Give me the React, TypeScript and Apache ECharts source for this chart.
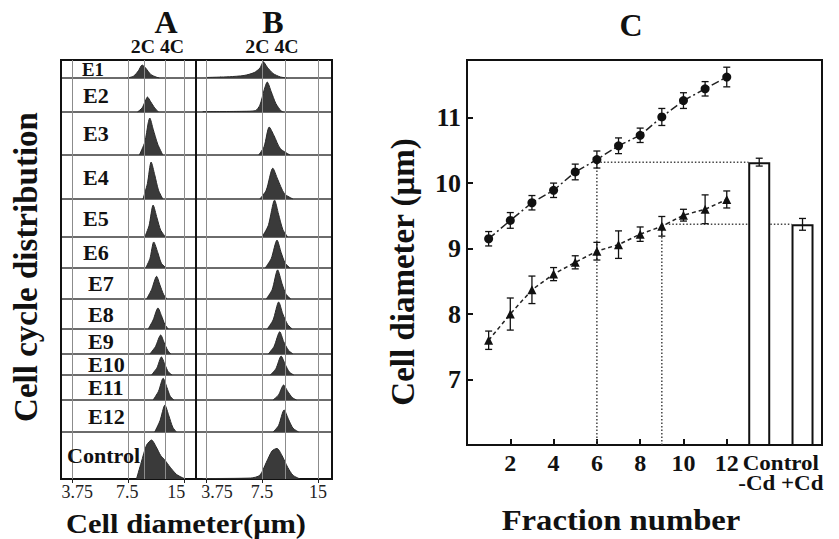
import { useEffect, useRef } from "react";
import * as echarts from "echarts";

// ================= DATA =================
const rowNames = ["E1", "E2", "E3", "E4", "E5", "E6", "E7", "E8", "E9", "E10", "E11", "E12", "Control"];

// Axis values of panels A and B (cell diameter, µm)
const diameterTicks = [3.75, 7.5, 15];
const ploidyA = [9.1, 11.8]; // 2C, 4C
const ploidyB = [7.53, 9.97]; // 2C, 4C

// Panel A histograms: [diameter µm, relative height]
const aE1 = [[7.4, 0], [8.0, 0.1], [8.5, 0.4], [8.9, 0.72], [9.3, 0.55], [9.9, 0.2], [10.6, 0.05], [11.0, 0]];
const aE2 = [[8.4, 0], [8.9, 0.12], [9.3, 0.35], [9.5, 0.44], [9.9, 0.3], [10.4, 0.12], [10.9, 0]];
const aE3 = [[8.6, 0], [9.2, 0.3], [9.6, 0.75], [9.78, 0.86], [10.2, 0.6], [10.8, 0.25], [11.5, 0]];
const aE4 = [[9.0, 0], [9.5, 0.35], [9.95, 0.84], [10.4, 0.55], [10.9, 0.2], [11.5, 0]];
const aE5 = [[9.2, 0], [9.7, 0.3], [10.2, 0.84], [10.7, 0.5], [11.2, 0.18], [11.9, 0]];
const aE6 = [[9.3, 0], [9.8, 0.3], [10.28, 0.84], [10.8, 0.5], [11.3, 0.15], [12.0, 0]];
const aE7 = [[9.4, 0], [10.0, 0.3], [10.65, 0.73], [11.1, 0.45], [11.6, 0.15], [12.1, 0]];
const aE8 = [[9.6, 0], [10.2, 0.3], [10.83, 0.7], [11.3, 0.45], [11.8, 0.15], [12.3, 0]];
const aE9 = [[9.8, 0], [10.5, 0.3], [11.2, 0.76], [11.7, 0.45], [12.2, 0.15], [12.7, 0]];
const aE10 = [[10.0, 0], [10.7, 0.35], [11.3, 0.86], [11.8, 0.5], [12.3, 0.15], [12.9, 0]];
const aE11 = [[10.2, 0], [10.9, 0.35], [11.55, 0.87], [12.1, 0.5], [12.6, 0.15], [13.2, 0]];
const aE12 = [[10.4, 0], [11.1, 0.35], [11.8, 0.84], [12.4, 0.5], [13.0, 0.15], [13.6, 0]];
const aControl = [[8.3, 0], [8.8, 0.35], [9.4, 0.72], [10.0, 0.83], [10.6, 0.68], [11.2, 0.5], [11.8, 0.4], [12.6, 0.25], [13.6, 0.1], [14.6, 0.03], [15.2, 0]];

// Panel B histograms: [diameter µm, relative height]
const bE1 = [[3.8, 0.03], [5.0, 0.07], [6.0, 0.14], [6.8, 0.3], [7.3, 0.55], [7.62, 0.9], [8.0, 0.6], [8.6, 0.25], [9.4, 0.06], [10.2, 0]];
const bE2 = [[3.6, 0.01], [6.0, 0.02], [6.9, 0.04], [7.3, 0.2], [7.7, 0.65], [8.0, 0.88], [8.4, 0.6], [8.9, 0.25], [9.5, 0.03], [9.8, 0]];
const bE3 = [[7.2, 0], [7.7, 0.2], [8.2, 0.65], [8.7, 0.45], [9.4, 0.15], [10.6, 0]];
const bE4 = [[7.3, 0], [7.9, 0.2], [8.57, 0.7], [9.1, 0.45], [9.9, 0.12], [11.0, 0]];
const bE5 = [[7.5, 0], [8.1, 0.3], [8.76, 0.97], [9.2, 0.6], [9.7, 0.2], [10.3, 0]];
const bE6 = [[7.8, 0], [8.4, 0.3], [9.03, 0.9], [9.5, 0.5], [10.0, 0.15], [10.6, 0]];
const bE7 = [[7.9, 0], [8.5, 0.3], [9.1, 0.94], [9.6, 0.5], [10.1, 0.15], [10.7, 0]];
const bE8 = [[8.0, 0], [8.6, 0.3], [9.22, 0.9], [9.7, 0.5], [10.3, 0.15], [10.9, 0]];
const bE9 = [[8.1, 0], [8.7, 0.3], [9.34, 0.89], [9.8, 0.5], [10.4, 0.15], [11.0, 0]];
const bE10 = [[8.3, 0], [8.9, 0.3], [9.5, 0.9], [10.0, 0.5], [10.5, 0.15], [11.1, 0]];
const bE11 = [[8.6, 0], [9.2, 0.2], [9.8, 0.6], [10.3, 0.35], [10.9, 0.1], [11.5, 0]];
const bE12 = [[8.6, 0], [9.2, 0.2], [9.86, 0.69], [10.4, 0.4], [11.0, 0.12], [11.8, 0]];
const bControl = [[3.6, 0.01], [6.5, 0.02], [7.3, 0.08], [7.9, 0.35], [8.5, 0.6], [9.03, 0.65], [9.6, 0.5], [10.3, 0.25], [11.0, 0.08], [12.0, 0]];

const histA = [aE1, aE2, aE3, aE4, aE5, aE6, aE7, aE8, aE9, aE10, aE11, aE12, aControl];
const histB = [bE1, bE2, bE3, bE4, bE5, bE6, bE7, bE8, bE9, bE10, bE11, bE12, bControl];

// Panel C
const fractions = [1, 2, 3, 4, 5, 6, 7, 8, 9, 10, 11, 12];
const diamNoCd = [9.15, 9.43, 9.7, 9.89, 10.17, 10.36, 10.57, 10.73, 11.01, 11.26, 11.44, 11.62];
const errNoCd = [0.11, 0.12, 0.11, 0.11, 0.12, 0.13, 0.12, 0.11, 0.13, 0.12, 0.11, 0.15];
const diamCd = [7.6, 8.0, 8.37, 8.61, 8.79, 8.96, 9.06, 9.22, 9.34, 9.51, 9.6, 9.75];
const errCd = [0.14, 0.245, 0.21, 0.1, 0.1, 0.135, 0.21, 0.11, 0.15, 0.09, 0.22, 0.13];
const controlNames = ["-Cd", "+Cd"];
const controlPos = [13.5, 15.5];
const controlMean = [10.32, 9.37];
const controlErr = [0.06, 0.09];
const matchFraction = [6, 9];
const xTicksC = [2, 4, 6, 8, 10, 12];
const yTicksC = [7, 8, 9, 10, 11];

// ================= LAYOUT =================
const SERIF = "'Liberation Serif', 'Times New Roman', serif";
const rowEdges = [60, 78, 112, 155, 199, 237, 268, 299, 329, 354, 375, 400, 432, 479];
const panelAX = [61, 196];
const panelBX = [196, 332];
const domainA = [3.26, 17.34];
const domainB = [3.31, 17.84];
const labelShiftA = [5, -1, -8];
const labelShiftB = [11, 0, 0];
const rowLabelX = [82, 83, 83, 83, 83, 83, 88, 88, 88, 88, 88, 88, 67];
const gridC = { left: 467, top: 60, width: 355, height: 385 };
const xRangeC = [0, 16.4];

function buildOption() {
  const log2 = Math.log2;
  const grids: any[] = [];
  const xAxes: any[] = [];
  const yAxes: any[] = [];
  const series: any[] = [];
  const tickLogs = diameterTicks.map(log2);

  const addPanel = (hists: number[][][], xr: number[], domain: number[], ploidy: number[], shifts: number[]) => {
    const rich: any = {};
    shifts.forEach((s, k) => {
      rich["t" + k] = {
        fontSize: 18,
        fontFamily: SERIF,
        color: "#222",
        padding: [0, s < 0 ? -2 * s : 0, 0, s > 0 ? 2 * s : 0],
      };
    });
    rowNames.forEach((_, i) => {
      const gi = grids.length;
      const top = rowEdges[i];
      const h = rowEdges[i + 1] - top;
      const isBottom = i === rowNames.length - 1;
      grids.push({
        left: xr[0], top, width: xr[1] - xr[0], height: h,
        show: true, borderColor: "#3a3a3a", borderWidth: 1, backgroundColor: "rgba(0,0,0,0)",
      });
      xAxes.push({
        gridIndex: gi, type: "value", min: log2(domain[0]), max: log2(domain[1]),
        show: isBottom,
        axisLine: { show: false },
        splitLine: { show: false },
        axisTick: { show: true, customValues: tickLogs, length: 4, lineStyle: { color: "#222" } },
        axisLabel: {
          customValues: tickLogs,
          margin: 4,
          hideOverlap: false,
          formatter: (v: number) => {
            let idx = 0;
            tickLogs.forEach((t, k) => { if (Math.abs(t - v) < Math.abs(tickLogs[idx] - v)) idx = k; });
            return `{t${idx}|${diameterTicks[idx]}}`;
          },
          rich,
        },
      });
      yAxes.push({ gridIndex: gi, type: "value", min: 0, max: 1, show: false });
      series.push({
        type: "line", xAxisIndex: gi, yAxisIndex: gi,
        data: hists[i].map(([d, v]) => [log2(d), v]),
        showSymbol: false, symbol: "none", smooth: 0.25, silent: true, z: 2,
        lineStyle: { color: "#2a2a2a", width: 1 },
        areaStyle: { color: "#3a3a3a", opacity: 1 },
        markLine: {
          silent: true, symbol: ["none", "none"], label: { show: false },
          lineStyle: { color: "#8c8c8c", width: 1, type: "solid" },
          data: [...diameterTicks, ...ploidy].map((d) => ({ xAxis: log2(d) })),
        },
      });
    });
    // thick outer frame
    const gi = grids.length;
    grids.push({
      left: xr[0], top: rowEdges[0], width: xr[1] - xr[0], height: rowEdges[rowEdges.length - 1] - rowEdges[0],
      show: true, borderColor: "#111", borderWidth: 2, backgroundColor: "rgba(0,0,0,0)",
    });
    xAxes.push({ gridIndex: gi, type: "value", min: 0, max: 1, show: false });
    yAxes.push({ gridIndex: gi, type: "value", min: 0, max: 1, show: false });
  };

  addPanel(histA, panelAX, domainA, ploidyA, labelShiftA);
  addPanel(histB, panelBX, domainB, ploidyB, labelShiftB);

  // ---- Panel C ----
  const gc = grids.length;
  const yMinC = 6;
  grids.push({ ...gridC, show: true, borderColor: "#111", borderWidth: 2, backgroundColor: "rgba(0,0,0,0)" });
  xAxes.push({
    gridIndex: gc, type: "value", min: xRangeC[0], max: xRangeC[1],
    axisLine: { show: true, lineStyle: { color: "#111", width: 2 } },
    axisTick: { show: true, inside: true, length: 6, customValues: xTicksC, lineStyle: { color: "#111", width: 2 } },
    splitLine: { show: false },
    axisLabel: {
      customValues: xTicksC,
      margin: 6, fontSize: 24, fontWeight: "bold", fontFamily: SERIF, color: "#111",
    },
  });
  yAxes.push({
    gridIndex: gc, type: "value", min: yMinC, max: 11.88, interval: 1,
    axisLine: { show: true, lineStyle: { color: "#111", width: 2 } },
    axisTick: { show: true, inside: true, length: 6, customValues: yTicksC, lineStyle: { color: "#111", width: 2 } },
    splitLine: { show: false },
    axisLabel: { customValues: yTicksC, margin: 6, fontSize: 26, fontWeight: "bold", fontFamily: SERIF, color: "#111" },
  });

  // guides (dotted)
  [diamNoCd, diamCd].forEach((vals, k) => {
    const f = matchFraction[k];
    const yTop = vals[fractions.indexOf(f)];
    const guide = { type: "line", xAxisIndex: gc, yAxisIndex: gc, symbol: "none", silent: true, z: 1,
      lineStyle: { color: "#444", width: 1.5, type: [1.5, 2] } };
    series.push({ ...guide, data: [[f, yMinC], [f, yTop]] });
    series.push({ ...guide, data: [[f, controlMean[k]], [controlPos[k] - 0.5, controlMean[k]]] });
  });

  // control bars
  series.push({
    type: "bar", xAxisIndex: gc, yAxisIndex: gc, barWidth: 22, z: 3, silent: true,
    data: controlPos.map((x, i) => [x, controlMean[i]]),
    itemStyle: { color: "#fff", borderColor: "#111", borderWidth: 2 },
  });

  // line series
  series.push({
    type: "line", xAxisIndex: gc, yAxisIndex: gc, z: 5, silent: true,
    data: fractions.map((f, i) => [f, diamNoCd[i]]),
    symbol: "circle", symbolSize: 9, itemStyle: { color: "#111" },
    lineStyle: { color: "#222", width: 1.5, type: [8, 3, 2, 3] },
  });
  series.push({
    type: "line", xAxisIndex: gc, yAxisIndex: gc, z: 5, silent: true,
    data: fractions.map((f, i) => [f, diamCd[i]]),
    symbol: "triangle", symbolSize: 9, itemStyle: { color: "#111" },
    lineStyle: { color: "#222", width: 1.5, type: [4, 3] },
  });

  // error bars
  const errData = [
    ...fractions.map((f, i) => [f, diamNoCd[i] - errNoCd[i], diamNoCd[i] + errNoCd[i]]),
    ...fractions.map((f, i) => [f, diamCd[i] - errCd[i], diamCd[i] + errCd[i]]),
    ...controlPos.map((x, i) => [x, controlMean[i] - controlErr[i], controlMean[i] + controlErr[i]]),
  ];
  series.push({
    type: "custom", xAxisIndex: gc, yAxisIndex: gc, z: 6, silent: true,
    data: errData,
    encode: { x: 0, y: [1, 2] },
    renderItem: (_p: any, api: any) => {
      const x = api.value(0);
      const lo = api.coord([x, api.value(1)]);
      const hi = api.coord([x, api.value(2)]);
      const cw = 3.5;
      const st = { stroke: "#111", lineWidth: 1.3 };
      return {
        type: "group",
        children: [
          { type: "line", shape: { x1: hi[0], y1: hi[1], x2: lo[0], y2: lo[1] }, style: st },
          { type: "line", shape: { x1: hi[0] - cw, y1: hi[1], x2: hi[0] + cw, y2: hi[1] }, style: st },
          { type: "line", shape: { x1: lo[0] - cw, y1: lo[1], x2: lo[0] + cw, y2: lo[1] }, style: st },
        ],
      };
    },
  });

  const txt = (text: string, x: number, y: number, size: number, rot = 0, align = "center", sx = 1, lh?: number) => ({
    type: "text", x, y, rotation: rot, scaleX: sx, silent: true, z: 10,
    style: {
      text, font: `bold ${size}px ${SERIF}`, fill: "#111", textAlign: align, textVerticalAlign: "middle",
      ...(lh ? { lineHeight: lh } : {}),
    },
  });

  // category label under the control bars, centred between them
  const pxPerUnit = gridC.width / (xRangeC[1] - xRangeC[0]);
  const ctrlCenter = gridC.left + ((controlPos[0] + controlPos[1]) / 2 - xRangeC[0]) * pxPerUnit;
  const axisBottom = gridC.top + gridC.height;

  const graphic: any[] = [
    txt("A", 166, 22, 32),
    txt("B", 273, 22, 32),
    txt("2C 4C", 157.5, 47, 18, 0, "center", 1.1),
    txt("2C 4C", 272, 47, 18, 0, "center", 1.1),
    txt("C", 631, 25, 32),
    txt("Cell cycle distribution", 26, 267, 33, Math.PI / 2),
    txt("Cell diameter(μm)", 186, 523, 28, 0, "center", 1.09),
    txt("Fraction number", 621, 520, 30, 0, "center", 1.09),
    txt("Cell diameter (μm)", 403, 272, 33, Math.PI / 2),
    txt("Control\n" + controlNames.join(" "), ctrlCenter, axisBottom + 28, 20, 0, "center", 1.15, 20),
    ...rowNames.map((name, i) =>
      txt(name, rowLabelX[i], (rowEdges[i] + rowEdges[i + 1]) / 2 + 1, i === 0 ? 18 : 21, 0, "left", 1.05)
    ),
  ];

  return {
    animation: false,
    backgroundColor: "#fff",
    grid: grids,
    xAxis: xAxes,
    yAxis: yAxes,
    series,
    graphic,
  };
}

export default function App() {
  const ref = useRef<HTMLDivElement>(null);
  useEffect(() => {
    if (!ref.current) return;
    const chart = echarts.init(ref.current, null, { renderer: "svg" });
    chart.setOption(buildOption() as any);
    return () => chart.dispose();
  }, []);
  return <div ref={ref} style={{ position: "absolute", left: 0, top: 0, width: 839, height: 539 }} />;
}
